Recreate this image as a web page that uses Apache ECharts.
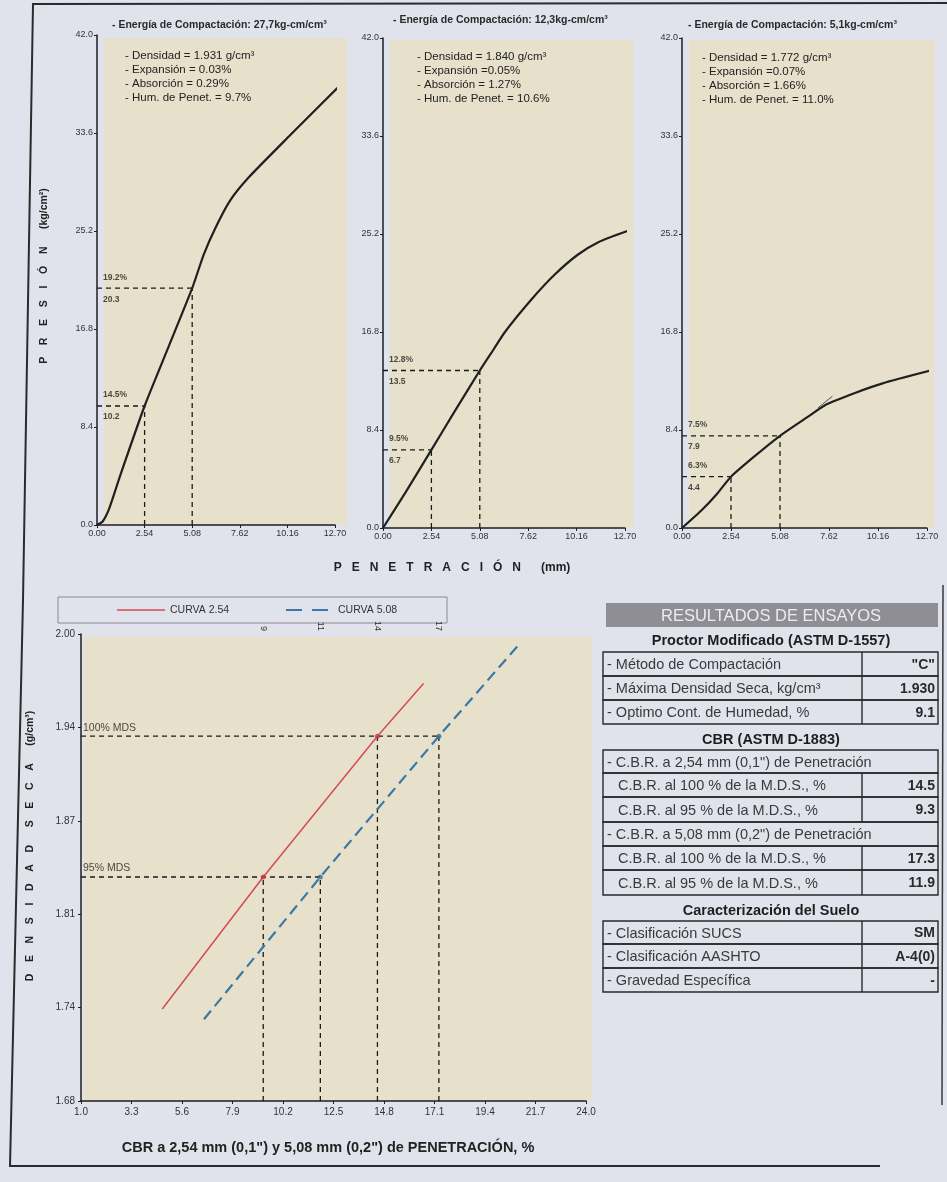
<!DOCTYPE html>
<html>
<head>
<meta charset="utf-8">
<script src="https://cdn.jsdelivr.net/npm/echarts@6/dist/echarts.min.js"></script>
<style>
  html, body { margin: 0; padding: 0; background: #e1e3ec; }
  #main { width: 947px; height: 1182px; }
</style>
</head>
<body>
<div id="main"></div>
<script>
// ---------- Ensayo de penetración (tres energías de compactación) ----------
const penetracionTicks = [0, 2.54, 5.08, 7.62, 10.16, 12.70];
const presionTicks = [0, 8.4, 16.8, 25.2, 33.6, 42.0];

const energias = ['27,7kg-cm/cm³', '12,3kg-cm/cm³', '5,1kg-cm/cm³'];
const densidades = ['1.931', '1.840', '1.772'];
const expansiones = [' 0.03%', '0.05%', '0.07%'];
const absorciones = ['0.29%', '1.27%', '1.66%'];
const humedades = ['9.7%', '10.6%', '11.0%'];

// curvas presión (kg/cm²) vs penetración (mm)
const curva56 = [[0, 0], [0.3, 0.3], [0.65, 1.4], [1.25, 4.3], [2.54, 10.2], [3.8, 15.2], [5.08, 20.3],
  [5.7, 23.2], [6.3, 25.4], [7.1, 27.8], [8.1, 29.8], [10.3, 33.4], [13.1, 37.9]];
const curva25 = [[0, 0], [1.2, 3.1], [2.54, 6.7], [3.8, 10.1], [5.08, 13.5], [5.8, 15.3], [6.4, 16.8],
  [7.8, 19.6], [9.0, 21.7], [10.2, 23.4], [11.3, 24.5], [12.9, 25.5]];
const curva10 = [[0, 0], [1.0, 1.5], [1.8, 2.9], [2.54, 4.4], [3.8, 6.2], [5.08, 7.9], [6.5, 9.5],
  [7.5, 10.6], [9.0, 11.6], [10.4, 12.4], [12.9, 13.5]];
const trazoTangente = [[7.05, 10.3], [7.8, 11.3]];

const presionEn254 = [10.2, 6.7, 4.4];
const presionEn508 = [20.3, 13.5, 7.9];
const cbrEtiqueta254 = ['14.5%', '9.5%', '6.3%'];
const cbrEtiqueta508 = ['19.2%', '12.8%', '7.5%'];

// ---------- Densidad seca vs CBR ----------
const cbrTicks = [1.0, 3.3, 5.6, 7.9, 10.2, 12.5, 14.8, 17.1, 19.4, 21.7, 24.0];
const densidadTicks = [1.68, 1.744, 1.808, 1.872, 1.936, 2.00];
const curvaCbr254 = [[4.7, 1.743], [9.3, 1.8335], [14.5, 1.930], [16.6, 1.966]];
const curvaCbr508 = [[6.6, 1.736], [11.9, 1.8335], [17.3, 1.930], [20.9, 1.992]];
const mds100 = 1.930;
const mds95 = 1.8335;
const cbr254 = [9.3, 14.5];   // al 95 % y al 100 % de la M.D.S.
const cbr508 = [11.9, 17.3];
const nombresCurvas = ['CURVA 2.54', 'CURVA 5.08'];

// ---------- Tablas de resultados ----------
const filasProctor = [
  ['- Método de Compactación', '"C"'],
  ['- Máxima Densidad Seca, kg/cm³', '1.930'],
  ['- Optimo Cont. de Humedad, %', '9.1']
];
const filasCbr = [
  ['- C.B.R. a 2,54 mm (0,1") de Penetración', null],
  ['  C.B.R. al 100 % de la M.D.S., %', '14.5'],
  ['  C.B.R. al 95 % de la M.D.S., %', '9.3'],
  ['- C.B.R. a 5,08 mm (0,2") de Penetración', null],
  ['  C.B.R. al 100 % de la M.D.S., %', '17.3'],
  ['  C.B.R. al 95 % de la M.D.S., %', '11.9']
];
const filasSuelo = [
  ['- Clasificación SUCS', 'SM'],
  ['- Clasificación AASHTO', 'A-4(0)'],
  ['- Gravedad Específica', '-']
];

// ---------- construcción ----------
const FONT = 'Liberation Sans, Arial, sans-serif';
const BEIGE = '#e7e1cb';
const INK = '#1e1e1e';
const ROJO = '#d24c55';
const AZUL = '#3a78a6';

const paneles = [
  { left: 97, top: 35, width: 238, height: 490, bg: [104, 38, 243, 487], curva: curva56 },
  { left: 383, top: 38, width: 242, height: 490, bg: [390, 40, 243, 488], curva: curva25 },
  { left: 682, top: 38, width: 245, height: 490, bg: [689, 40, 246, 488], curva: curva10 }
];

const grids = [], xAxes = [], yAxes = [], series = [], graphics = [];

function ejeBase() {
  return {
    axisLine: { show: true, onZero: false, lineStyle: { color: INK, width: 1.5 } },
    splitLine: { show: false },
    axisLabel: { fontFamily: FONT, fontSize: 9, color: '#333', margin: 4 },
    axisTick: { show: true, length: 3, lineStyle: { color: INK, width: 1 } }
  };
}

function guia(gi, pts) {
  return {
    type: 'line', xAxisIndex: gi, yAxisIndex: gi, data: pts, symbol: 'none', silent: true, z: 3,
    lineStyle: { type: [5, 4], color: '#1a1a1a', width: 1.3 }
  };
}

paneles.forEach((p, i) => {
  grids.push({ left: p.left, top: p.top, width: p.width, height: p.height });
  const xa = ejeBase();
  Object.assign(xa, { type: 'value', gridIndex: i, min: 0, max: 12.7 });
  xa.axisLabel = Object.assign({}, xa.axisLabel, { customValues: penetracionTicks, formatter: v => v.toFixed(2) });
  xa.axisTick = Object.assign({}, xa.axisTick, { customValues: penetracionTicks });
  xAxes.push(xa);
  const ya = ejeBase();
  Object.assign(ya, { type: 'value', gridIndex: i, min: 0, max: 42 });
  ya.axisLabel = Object.assign({}, ya.axisLabel, { customValues: presionTicks, formatter: v => v.toFixed(1) });
  ya.axisTick = Object.assign({}, ya.axisTick, { customValues: presionTicks });
  yAxes.push(ya);

  // fondo del área de trazado
  graphics.push({ type: 'rect', z: -10, shape: { x: p.bg[0], y: p.bg[1], width: p.bg[2], height: p.bg[3] },
    style: { fill: BEIGE } });

  // curva de presión
  series.push({ type: 'line', xAxisIndex: i, yAxisIndex: i, data: p.curva, smooth: 0.2,
    symbol: 'none', clip: false, z: 4, lineStyle: { color: '#202020', width: 2.2 } });

  // líneas guía a 2,54 y 5,08 mm
  const v1 = presionEn254[i], v2 = presionEn508[i];
  series.push(guia(i, [[0, v1], [2.54, v1]]));
  series.push(guia(i, [[2.54, 0], [2.54, v1]]));
  series.push(guia(i, [[0, v2], [5.08, v2]]));
  series.push(guia(i, [[5.08, 0], [5.08, v2]]));

  // etiquetas de CBR y presión
  series.push({
    type: 'scatter', xAxisIndex: i, yAxisIndex: i, symbolSize: 0, silent: true, z: 5,
    data: [
      { value: [0, v1], txt: [cbrEtiqueta254[i], v1.toFixed(1)] },
      { value: [0, v2], txt: [cbrEtiqueta508[i], v2.toFixed(1)] }
    ],
    label: {
      show: true, position: 'right', distance: 6,
      formatter: prm => '{a|' + prm.data.txt[0] + '}\n{a|' + prm.data.txt[1] + '}',
      rich: { a: { fontFamily: FONT, fontSize: 8.5, fontWeight: 'bold', color: '#222', lineHeight: 22 } }
    }
  });

  // título de energía y datos del espécimen
  graphics.push({ type: 'text', x: [112, 393, 688][i], y: [25, 20, 25][i],
    style: { text: '- Energía de Compactación: ' + energias[i], fontFamily: FONT, fontSize: 10.5,
      fontWeight: 'bold', fill: '#2a2a2a', verticalAlign: 'middle' } });
  const bloque = [
    '- Densidad = ' + densidades[i] + ' g/cm³',
    '- Expansión =' + expansiones[i],
    '- Absorción = ' + absorciones[i],
    '- Hum. de Penet. = ' + humedades[i]
  ];
  bloque.forEach((t, k) => {
    graphics.push({ type: 'text', x: [125, 417, 702][i], y: [56, 57, 58][i] + k * 14,
      style: { text: t, fontFamily: FONT, fontSize: 11.5, fill: '#222', verticalAlign: 'middle' } });
  });
});

// trazo corto sobre la curva de 10 golpes
series.push({ type: 'line', xAxisIndex: 2, yAxisIndex: 2, data: trazoTangente, symbol: 'none', silent: true,
  z: 4, lineStyle: { color: '#555', width: 1 } });

// ----- gráfico densidad seca vs CBR -----
const gi = 3;
grids.push({ left: 81, top: 634, width: 505, height: 467 });
graphics.push({ type: 'rect', z: -10, shape: { x: 84, y: 637, width: 508, height: 464 }, style: { fill: BEIGE } });

const xb = ejeBase();
Object.assign(xb, { type: 'value', gridIndex: gi, min: 1, max: 24 });
xb.axisLabel = Object.assign({}, xb.axisLabel, { customValues: cbrTicks, formatter: v => v.toFixed(1), fontSize: 10, margin: 6 });
xb.axisTick = Object.assign({}, xb.axisTick, { customValues: cbrTicks });
xAxes.push(xb);
// eje superior con los valores de CBR leídos
xAxes.push({
  type: 'value', gridIndex: gi, position: 'top', min: 1, max: 24,
  axisLine: { show: false }, axisTick: { show: false }, splitLine: { show: false },
  axisLabel: { customValues: cbr254.concat(cbr508).sort((a, b) => a - b), formatter: v => String(Math.floor(v)),
    rotate: 90, fontFamily: FONT, fontSize: 9, color: '#333', margin: 3 }
});
const yb = ejeBase();
Object.assign(yb, { type: 'value', gridIndex: gi, min: 1.68, max: 2.00 });
yb.axisLabel = Object.assign({}, yb.axisLabel, { customValues: densidadTicks, formatter: v => v.toFixed(2), fontSize: 10, margin: 6 });
yb.axisTick = Object.assign({}, yb.axisTick, { customValues: densidadTicks });
yAxes.push(yb);

series.push({ name: nombresCurvas[0], type: 'line', xAxisIndex: 3, yAxisIndex: 3, data: curvaCbr254, symbol: 'none',
  z: 4, itemStyle: { color: ROJO }, lineStyle: { color: ROJO, width: 1.5 } });
series.push({ name: nombresCurvas[1], type: 'line', xAxisIndex: 3, yAxisIndex: 3, data: curvaCbr508, symbol: 'none',
  z: 4, itemStyle: { color: AZUL }, lineStyle: { color: AZUL, width: 2.2, type: [11, 6] } });

// guías de 100 % y 95 % de la M.D.S.
series.push(guia(3, [[1, mds100], [cbr508[1], mds100]]));
series.push(guia(3, [[1, mds95], [cbr508[0], mds95]]));
[[cbr254[0], mds95], [cbr254[1], mds100], [cbr508[0], mds95], [cbr508[1], mds100]].forEach(pt => {
  series.push(guia(3, [[pt[0], 1.68], pt]));
});
// puntos de intersección
series.push({ type: 'scatter', xAxisIndex: 3, yAxisIndex: 3, symbolSize: 5, z: 6, silent: true,
  data: [[cbr254[0], mds95], [cbr254[1], mds100]], itemStyle: { color: '#c83a40' } });
series.push({ type: 'scatter', xAxisIndex: 3, yAxisIndex: 3, symbolSize: 5, z: 6, silent: true,
  data: [[cbr508[0], mds95], [cbr508[1], mds100]], itemStyle: { color: '#2f6f9f' } });
// rótulos de M.D.S.
series.push({ type: 'scatter', xAxisIndex: 3, yAxisIndex: 3, symbolSize: 0, silent: true, z: 5,
  data: [{ value: [1, mds100], t: '100% MDS' }, { value: [1, mds95], t: '95% MDS' }],
  label: { show: true, position: [2, -14], formatter: p => p.data.t, fontFamily: FONT, fontSize: 10.5, color: '#222' } });

// leyenda
graphics.push({ type: 'rect', shape: { x: 58, y: 597, width: 389, height: 26 },
  style: { fill: 'rgba(0,0,0,0)', stroke: '#8a8a90', lineWidth: 1 } });
graphics.push({ type: 'line', shape: { x1: 117, y1: 610, x2: 165, y2: 610 }, style: { stroke: ROJO, lineWidth: 1.5 } });
graphics.push({ type: 'text', x: 170, y: 610, style: { text: nombresCurvas[0], fontFamily: FONT, fontSize: 10.5,
  fill: '#333', verticalAlign: 'middle' } });
graphics.push({ type: 'line', shape: { x1: 286, y1: 610, x2: 328, y2: 610 },
  style: { stroke: AZUL, lineWidth: 2.2, lineDash: [16, 10] } });
graphics.push({ type: 'text', x: 338, y: 610, style: { text: nombresCurvas[1], fontFamily: FONT, fontSize: 10.5,
  fill: '#333', verticalAlign: 'middle' } });

// ----- rótulos de ejes -----
function textoVertical(x, y, txt, size) {
  graphics.push({ type: 'text', x: x, y: y, rotation: Math.PI / 2,
    style: { text: txt, fontFamily: FONT, fontSize: size, fontWeight: 'bold', fill: '#222',
      align: 'center', verticalAlign: 'middle' } });
}
textoVertical(44, 276, 'P    R    E    S    I    Ó    N      (kg/cm²)', 10.5);
textoVertical(30, 846, 'D    E    N    S    I    D    A    D      S    E    C    A      (g/cm³)', 10.5);
graphics.push({ type: 'text', x: 452, y: 568,
  style: { text: 'P   E   N   E   T   R   A   C   I   Ó   N      (mm)', fontFamily: FONT, fontSize: 12,
    fontWeight: 'bold', fill: '#222', align: 'center', verticalAlign: 'middle' } });
graphics.push({ type: 'text', x: 328, y: 1148,
  style: { text: 'CBR a 2,54 mm (0,1") y 5,08 mm (0,2") de PENETRACIÓN, %', fontFamily: FONT, fontSize: 14.5,
    fontWeight: 'bold', fill: '#222', align: 'center', verticalAlign: 'middle' } });

// ----- tablas -----
const TX0 = 603, TX1 = 938, TDIV = 862;
graphics.push({ type: 'rect', shape: { x: 606, y: 603, width: 332, height: 24 }, style: { fill: '#8e8e94' } });
graphics.push({ type: 'text', x: 771, y: 616,
  style: { text: 'RESULTADOS DE ENSAYOS', fontFamily: FONT, fontSize: 16.5, fill: '#ececf0', align: 'center',
    verticalAlign: 'middle' } });

function titulo(y, txt) {
  graphics.push({ type: 'text', x: 771, y: y,
    style: { text: txt, fontFamily: FONT, fontSize: 14.5, fontWeight: 'bold', fill: '#1e1e1e', align: 'center',
      verticalAlign: 'middle' } });
}
function tabla(filas, ys) {
  filas.forEach((f, k) => {
    const y0 = ys[k], y1 = ys[k + 1];
    graphics.push({ type: 'rect', shape: { x: TX0, y: y0, width: TX1 - TX0, height: y1 - y0 },
      style: { fill: 'rgba(0,0,0,0)', stroke: '#2a2a2a', lineWidth: 1.4 } });
    if (f[1] !== null) {
      graphics.push({ type: 'line', shape: { x1: TDIV, y1: y0, x2: TDIV, y2: y1 },
        style: { stroke: '#2a2a2a', lineWidth: 1.4 } });
      graphics.push({ type: 'text', x: TX1 - 3, y: (y0 + y1) / 2 + 1,
        style: { text: f[1], fontFamily: FONT, fontSize: 14, fontWeight: 'bold', fill: '#2a2a2a', align: 'right',
          verticalAlign: 'middle' } });
    }
    const sangria = f[0].startsWith('  ');
    graphics.push({ type: 'text', x: TX0 + (sangria ? 15 : 4), y: (y0 + y1) / 2 + 1,
      style: { text: f[0].trim(), fontFamily: FONT, fontSize: 14.5, fill: '#3a3a3a', verticalAlign: 'middle' } });
  });
}
titulo(641, 'Proctor Modificado (ASTM D-1557)');
tabla(filasProctor, [652, 676, 700, 724]);
titulo(740, 'CBR (ASTM D-1883)');
tabla(filasCbr, [750, 773, 797, 822, 846, 870, 895]);
titulo(911, 'Caracterización del Suelo');
tabla(filasSuelo, [921, 944, 968, 992]);

// ----- marco de la hoja -----
graphics.push({ type: 'polyline', shape: { points: [[947, 3], [33, 4], [23, 600], [10, 1166], [880, 1166]] },
  style: { stroke: '#2b2b2b', lineWidth: 2, fill: null } });
graphics.push({ type: 'line', shape: { x1: 943, y1: 585, x2: 942, y2: 1105 },
  style: { stroke: '#3a3a3a', lineWidth: 1.5 } });

const chart = echarts.init(document.getElementById('main'), null, { renderer: 'canvas' });
chart.setOption({
  animation: false,
  backgroundColor: '#e1e3ec',
  grid: grids,
  xAxis: xAxes,
  yAxis: yAxes,
  series: series,
  graphic: graphics
});
</script>
</body>
</html>
